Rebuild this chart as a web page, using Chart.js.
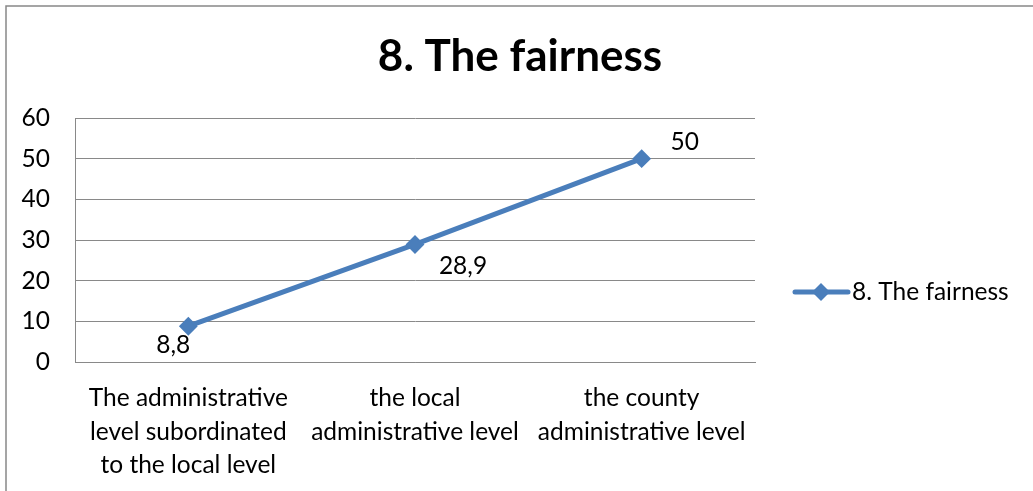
<!DOCTYPE html>
<html>
<head>
<meta charset="utf-8">
<script src="https://cdn.jsdelivr.net/npm/chart.js@4/dist/chart.umd.min.js"></script>
<style>
  html, body { margin: 0; padding: 0; background: #fff; }
  #wrap { width: 1033px; height: 491px; position: relative; }
</style>
</head>
<body>
<div id="wrap"><canvas id="c" width="1033" height="491"></canvas></div>
<script>
// Chart content
const chartTitle = "8. The fairness";
const seriesName = "8. The fairness";
const categories = [
  ["The administrative", "level subordinated", "to the local level"],
  ["the local", "administrative level"],
  ["the county", "administrative level"]
];
const values = [8.8, 28.9, 50];
const valueLabels = ["8,8", "28,9", "50"];
const yTicks = [0, 10, 20, 30, 40, 50, 60];

const FONT = "Lato, 'Noto Sans', sans-serif";
const BLUE = "#4a7ebb";
const GRID = "#898989";
const TXT = 24.5;

// Label placement per point: below-left, below-right, above-right
const labelOffsets = [[-15, 19], [48, 22], [43, -17]];

const decorations = {
  id: "decorations",
  beforeDraw(chart) {
    const ctx = chart.ctx;
    ctx.save();
    ctx.fillStyle = "#fff";
    ctx.fillRect(0, 0, chart.width, chart.height);
    ctx.strokeStyle = "#888";
    ctx.lineWidth = 1.5;
    ctx.strokeRect(6, 6, chart.width + 10, chart.height + 10);
    ctx.restore();
  },
  afterDraw(chart) {
    const ctx = chart.ctx;
    ctx.save();
    // title
    ctx.fillStyle = "#000";
    ctx.font = "bold 44px " + FONT;
    ctx.textAlign = "center";
    ctx.textBaseline = "middle";
    ctx.fillText(chartTitle, 520, 57);

    // value labels next to each point
    const meta = chart.getDatasetMeta(0);
    ctx.font = TXT + "px " + FONT;
    meta.data.forEach((pt, i) => {
      ctx.fillText(valueLabels[i], pt.x + labelOffsets[i][0], pt.y + labelOffsets[i][1]);
    });

    // legend
    const ly = 292;
    ctx.strokeStyle = BLUE;
    ctx.lineWidth = 5;
    ctx.lineCap = "round";
    ctx.beginPath();
    ctx.moveTo(795, ly);
    ctx.lineTo(848, ly);
    ctx.stroke();
    ctx.fillStyle = BLUE;
    ctx.beginPath();
    ctx.moveTo(821 - 9, ly);
    ctx.lineTo(821, ly - 9);
    ctx.lineTo(821 + 9, ly);
    ctx.lineTo(821, ly + 9);
    ctx.closePath();
    ctx.fill();
    ctx.fillStyle = "#000";
    ctx.textAlign = "left";
    ctx.fillText(seriesName, 852, ly);
    ctx.restore();
  }
};

new Chart(document.getElementById("c"), {
  type: "line",
  data: {
    labels: categories,
    datasets: [{
      label: seriesName,
      data: values,
      borderColor: BLUE,
      backgroundColor: BLUE,
      borderWidth: 5,
      pointStyle: "rectRot",
      pointRadius: 8,
      pointBorderWidth: 2,
      pointBorderColor: BLUE,
      pointBackgroundColor: BLUE,
      tension: 0
    }]
  },
  options: {
    responsive: false,
    animation: false,
    layout: { padding: { left: 0, top: 118, right: 278, bottom: 0 } },
    plugins: { legend: { display: false }, title: { display: false }, tooltip: { enabled: false } },
    scales: {
      x: {
        offset: true,
        grid: { display: false, drawTicks: false },
        border: { display: true, color: GRID, width: 1 },
        ticks: { color: "#000", font: { family: FONT, size: TXT, lineHeight: 1.35 }, padding: 20, maxRotation: 0, autoSkip: false },
        afterFit(s) { s.height = 491 - 362; }
      },
      y: {
        min: 0, max: 60,
        afterBuildTicks(s) { s.ticks = yTicks.map(v => ({ value: v })); },
        grid: { color: GRID, lineWidth: 1, drawTicks: false },
        border: { display: true, color: GRID, width: 1 },
        ticks: { color: "#000", font: { family: FONT, size: TXT }, padding: 25 },
        afterFit(s) { s.width = 75; }
      }
    }
  },
  plugins: [decorations]
});
</script>
</body>
</html>
